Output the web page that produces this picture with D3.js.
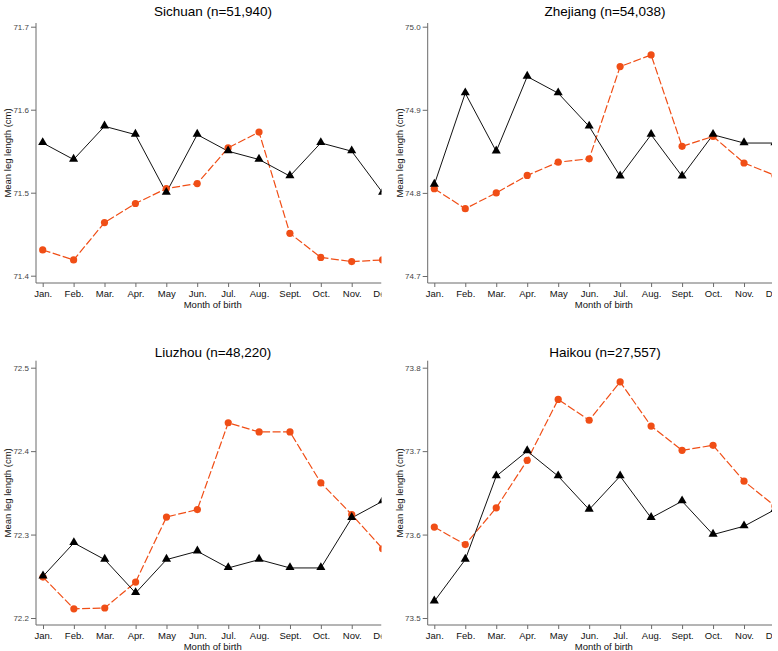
<!DOCTYPE html>
<html>
<head>
<meta charset="utf-8">
<script src="https://cdn.jsdelivr.net/npm/d3@7"></script>
<style>
  html, body { margin: 0; padding: 0; background: #fff; }
  svg { display: block; font-family: "Liberation Sans", Arial, sans-serif; }
</style>
</head>
<body>
<svg id="chart" width="778" height="651"></svg>
<script>
const months = ["Jan.", "Feb.", "Mar.", "Apr.", "May", "Jun.", "Jul.", "Aug.", "Sept.", "Oct.", "Nov.", "Dec."];

const sichuanBlack  = [71.56, 71.54, 71.58, 71.57, 71.50, 71.57, 71.55, 71.54, 71.52, 71.56, 71.55, 71.50];
const sichuanOrange = [71.431, 71.419, 71.464, 71.487, 71.505, 71.511, 71.554, 71.573, 71.451, 71.422, 71.417, 71.419];
const sichuanTicks  = [71.4, 71.5, 71.6, 71.7];

const zhejiangBlack  = [74.81, 74.92, 74.85, 74.94, 74.92, 74.88, 74.82, 74.87, 74.82, 74.87, 74.86, 74.86];
const zhejiangOrange = [74.805, 74.781, 74.800, 74.821, 74.837, 74.841, 74.952, 74.966, 74.856, 74.868, 74.836, 74.821];
const zhejiangTicks  = [74.7, 74.8, 74.9, 75.0];

const liuzhouBlack  = [72.25, 72.29, 72.27, 72.23, 72.27, 72.28, 72.26, 72.27, 72.26, 72.26, 72.32, 72.34];
const liuzhouOrange = [72.249, 72.211, 72.212, 72.243, 72.321, 72.330, 72.434, 72.423, 72.423, 72.362, 72.324, 72.283];
const liuzhouTicks  = [72.2, 72.3, 72.4, 72.5];

const haikouBlack  = [73.52, 73.57, 73.67, 73.70, 73.67, 73.63, 73.67, 73.62, 73.64, 73.60, 73.61, 73.63];
const haikouOrange = [73.609, 73.588, 73.632, 73.689, 73.762, 73.737, 73.783, 73.730, 73.701, 73.707, 73.664, 73.634];
const haikouTicks  = [73.5, 73.6, 73.7, 73.8];

const titles = ["Sichuan (n=51,940)", "Zhejiang (n=54,038)", "Liuzhou (n=48,220)", "Haikou (n=27,557)"];

const panels = [
  { title: titles[0], black: sichuanBlack,  orange: sichuanOrange,  ticks: sichuanTicks,
    axisX: 36,    right: 381.5, jan: 42.7,  dec: 382.6, top: 23,    bottom: 283, yTop: 26.7,  yBot: 275.7, titleY: 16,  titleX: 213 },
  { title: titles[1], black: zhejiangBlack, orange: zhejiangOrange, ticks: zhejiangTicks,
    axisX: 427.7, right: 772,   jan: 434.3, dec: 775,   top: 23,    bottom: 283, yTop: 26.7,  yBot: 276,   titleY: 16,  titleX: 605 },
  { title: titles[2], black: liuzhouBlack,  orange: liuzhouOrange,  ticks: liuzhouTicks,
    axisX: 36,    right: 381.5, jan: 43,    dec: 382.6, top: 360.7, bottom: 625, yTop: 367.7, yBot: 618,   titleY: 357, titleX: 213 },
  { title: titles[3], black: haikouBlack,   orange: haikouOrange,   ticks: haikouTicks,
    axisX: 427.7, right: 772,   jan: 434.3, dec: 775,   top: 360.7, bottom: 625, yTop: 367.7, yBot: 618,   titleY: 357, titleX: 605 }
];

const svg = d3.select("#chart");
const orangeColor = "#f04e16";
const axisColor = "#6b6b6b";

panels.forEach((p, i) => {
  const x = d3.scalePoint().domain(months).range([p.jan, p.dec]);
  const y = d3.scaleLinear().domain([p.ticks[0], p.ticks[p.ticks.length - 1]]).range([p.yBot, p.yTop]);

  const clipId = "clip" + i;
  svg.append("clipPath").attr("id", clipId)
    .append("rect").attr("x", p.axisX - 40).attr("y", p.top - 5)
    .attr("width", p.right - p.axisX + 40).attr("height", p.bottom - p.top + 40);

  const g = svg.append("g").attr("clip-path", `url(#${clipId})`);

  // title
  svg.append("text").attr("x", p.titleX).attr("y", p.titleY)
    .attr("text-anchor", "middle").attr("font-size", 13.5).attr("fill", "#000")
    .text(p.title);

  // y axis
  const yAxis = d3.axisLeft(y).tickValues(p.ticks).tickFormat(d3.format(".1f")).tickSize(5).tickPadding(2);
  const ya = svg.append("g").attr("transform", `translate(${p.axisX},0)`).call(yAxis);
  ya.select(".domain").remove();
  ya.append("line").attr("x1", 0).attr("x2", 0).attr("y1", p.top).attr("y2", p.bottom)
    .attr("stroke", axisColor);
  ya.selectAll(".tick line").attr("stroke", axisColor);
  ya.selectAll(".tick text").attr("fill", "#444").attr("font-size", 8);

  // x axis
  const xAxis = d3.axisBottom(x).tickSize(4).tickPadding(3);
  const xa = g.append("g").attr("transform", `translate(0,${p.bottom})`).call(xAxis);
  xa.select(".domain").remove();
  xa.append("line").attr("x1", p.axisX).attr("x2", p.right).attr("y1", 0).attr("y2", 0)
    .attr("stroke", axisColor);
  xa.selectAll(".tick line").attr("stroke", axisColor);
  xa.selectAll(".tick text").attr("fill", "#111").attr("font-size", 9.5);

  // axis titles
  svg.append("text")
    .attr("transform", `translate(${p.axisX - 25},${(p.top + p.bottom) / 2}) rotate(-90)`)
    .attr("text-anchor", "middle").attr("font-size", 9.5).attr("fill", "#111")
    .text("Mean leg length (cm)");
  svg.append("text").attr("x", (p.axisX + p.right) / 2 + 4).attr("y", p.bottom + 25)
    .attr("text-anchor", "middle").attr("font-size", 9.5).attr("fill", "#111")
    .text("Month of birth");

  const line = d3.line().x((d, j) => x(months[j])).y(d => y(d));

  // orange series
  g.append("path").datum(p.orange).attr("d", line)
    .attr("fill", "none").attr("stroke", orangeColor).attr("stroke-width", 1.2)
    .attr("stroke-dasharray", "8,2.5");
  // black series
  g.append("path").datum(p.black).attr("d", line)
    .attr("fill", "none").attr("stroke", "#111").attr("stroke-width", 1);

  g.selectAll(".dot").data(p.orange).enter().append("circle")
    .attr("cx", (d, j) => x(months[j])).attr("cy", d => y(d)).attr("r", 3.6)
    .attr("fill", orangeColor);

  const tri = d3.symbol().type(d3.symbolTriangle).size(36);
  g.selectAll(".tri").data(p.black).enter().append("path")
    .attr("d", tri)
    .attr("transform", (d, j) => `translate(${x(months[j])},${y(d) - 0.5})`)
    .attr("fill", "#000");
});
</script>
</body>
</html>
